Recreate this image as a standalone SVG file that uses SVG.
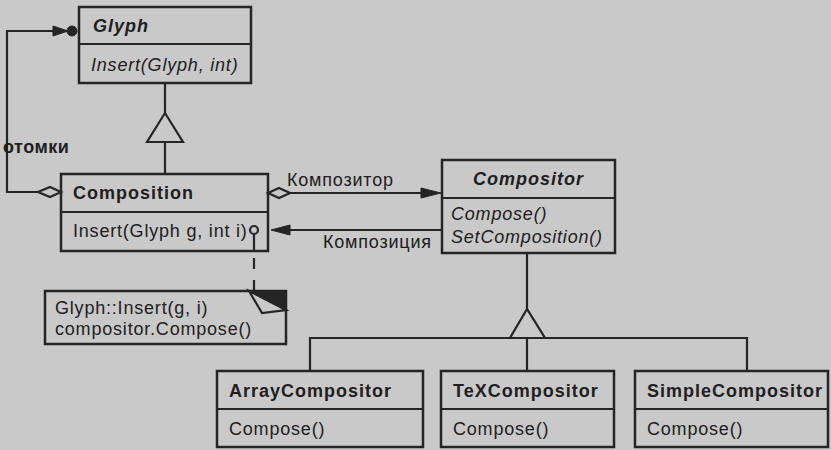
<svg xmlns="http://www.w3.org/2000/svg" width="831" height="450" viewBox="0 0 831 450">
<style>
  .bg{fill:#c9c9c9}
  .box{fill:#c9c9c9;stroke:#252525;stroke-width:2.5}
  .ln{fill:none;stroke:#252525;stroke-width:2.2}
  .fill{fill:#252525;stroke:#252525;stroke-width:1}
  .hol{fill:#c9c9c9;stroke:#252525;stroke-width:2.2}
  text{font-family:"Liberation Sans",Arial,sans-serif;font-size:18px;fill:#202020;letter-spacing:0.8px}
  .t{font-weight:bold;letter-spacing:1px}
  .ti{font-weight:bold;font-style:italic;letter-spacing:1px}
  .i{font-style:italic}
</style>
<rect class="bg" x="0" y="0" width="831" height="450"/>

<g id="glyph">
  <rect class="box" x="79" y="7" width="172" height="76"/>
  <line class="ln" x1="79" y1="44" x2="251" y2="44"/>
  <text x="93" y="32" class="ti">Glyph</text>
  <text x="91" y="71" class="i">Insert(Glyph, int)</text>
</g>

<g id="composition">
  <rect class="box" x="61" y="174" width="207" height="77"/>
  <line class="ln" x1="61" y1="212" x2="268" y2="212"/>
  <text x="73" y="199" class="t">Composition</text>
  <text x="73" y="237">Insert(Glyph g, int i)</text>
</g>

<g id="compositor">
  <rect class="box" x="442" y="160" width="173" height="93"/>
  <line class="ln" x1="442" y1="198" x2="615" y2="198"/>
  <text x="473" y="185" class="ti">Compositor</text>
  <text x="451" y="220" class="i">Compose()</text>
  <text x="451" y="243" class="i">SetComposition()</text>
</g>

<g id="note">
  <rect class="box" x="45" y="291" width="241" height="53"/>
  <polygon class="fill" points="249,291 286,291 286,310"/>
  <polygon class="hol" points="249,291 262,313 286,310"/>
  <text x="55" y="314">Glyph::Insert(g, i)</text>
  <text x="55" y="335">compositor.Compose()</text>
</g>

<g id="arraycompositor">
  <rect class="box" x="217" y="371" width="206" height="76"/>
  <line class="ln" x1="217" y1="409" x2="423" y2="409"/>
  <text x="229" y="397" class="t">ArrayCompositor</text>
  <text x="229" y="435">Compose()</text>
</g>

<g id="texcompositor">
  <rect class="box" x="441" y="371" width="173" height="76"/>
  <line class="ln" x1="441" y1="409" x2="614" y2="409"/>
  <text x="453" y="397" class="t">TeXCompositor</text>
  <text x="453" y="435">Compose()</text>
</g>

<g id="simplecompositor">
  <rect class="box" x="635" y="371" width="193" height="76"/>
  <line class="ln" x1="635" y1="409" x2="828" y2="409"/>
  <text x="647" y="397" class="t">SimpleCompositor</text>
  <text x="647" y="435">Compose()</text>
</g>

<g id="connectors">
  <!-- Composition -> Glyph inheritance -->
  <line class="ln" x1="165" y1="83" x2="165" y2="113"/>
  <polygon class="hol" points="165,113 147,142 183,142"/>
  <line class="ln" x1="165" y1="142" x2="165" y2="174"/>
  <!-- children aggregation loop -->
  <polygon class="hol" points="61,192 50,187 38,192 50,197"/>
  <polyline class="ln" points="38,192 7,192 7,31 58,31"/>
  <polygon class="fill" points="53,26 68,31 53,36"/>
  <circle class="fill" cx="72" cy="31" r="5"/>
  <!-- Composition -> Compositor -->
  <polygon class="hol" points="268,193 279,188 290,193 279,198"/>
  <line class="ln" x1="290" y1="193" x2="425" y2="193"/>
  <polygon class="fill" points="421,188 441,193 421,198"/>
  <!-- Compositor -> Composition -->
  <line class="ln" x1="442" y1="230" x2="285" y2="230"/>
  <polygon class="fill" points="290,225 271,230 290,235"/>
  <!-- note link -->
  <line class="ln" x1="254" y1="234" x2="254" y2="251"/>
  <circle class="hol" cx="254" cy="230" r="4"/>
  <line class="ln" x1="254" y1="258" x2="254" y2="291" stroke-dasharray="11 11"/>
  <!-- Compositor subclasses -->
  <line class="ln" x1="527" y1="253" x2="527" y2="309"/>
  <polygon class="hol" points="527,309 510,338 545,338"/>
  <polyline class="ln" points="310,371 310,338 747,338 747,371"/>
  <line class="ln" x1="527" y1="338" x2="527" y2="371"/>
  <text x="3" y="153" class="t" style="letter-spacing:0.5px">отомки</text>
  <text x="287" y="186">Композитор</text>
  <text x="323" y="248">Композиция</text>
</g>
</svg>
